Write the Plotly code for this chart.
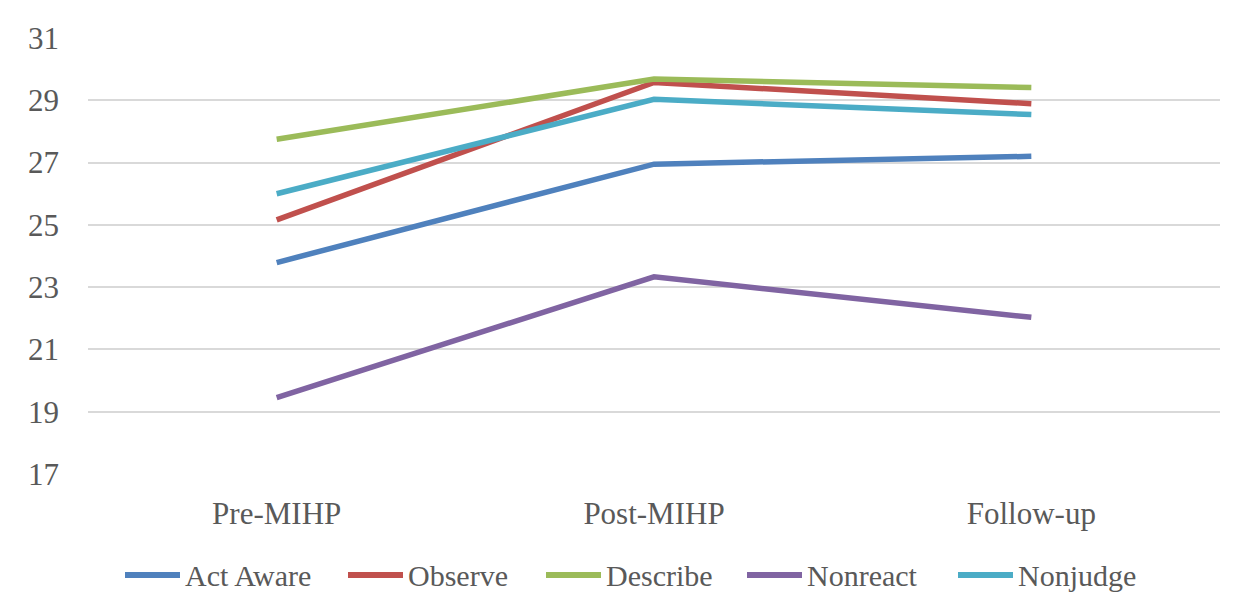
import plotly.graph_objects as go

categories = ["Pre-MIHP", "Post-MIHP", "Follow-up"]
act_aware = [23.79, 26.95, 27.20]
observe = [25.16, 29.57, 28.89]
describe = [27.75, 29.68, 29.41]
nonreact = [19.45, 23.33, 22.03]
nonjudge = [26.00, 29.03, 28.54]
y_ticks = [17, 19, 21, 23, 25, 27, 29, 31]

series_names = ["Act Aware", "Observe", "Describe", "Nonreact", "Nonjudge"]
series_values = [act_aware, observe, describe, nonreact, nonjudge]
series_colors = ["#4F81BD", "#C0504D", "#9BBB59", "#8064A2", "#4BACC6"]

fig = go.Figure()
for name, vals, color in zip(series_names, series_values, series_colors):
    fig.add_trace(go.Scatter(x=categories, y=vals, mode="lines", name=name,
                             showlegend=False,
                             line=dict(color=color, width=5.5)))

# page body adds an 8px offset; compensate
W, H = 1236, 604
l, t = 80, 30
pw, ph = 1132, 436
r = W - l - pw
b = H - t - ph

font = "Liberation Serif"
axis_txt = dict(family=font, size=31, color="#595959")
leg_txt = dict(family=font, size=30, color="#595959")

# legend drawn manually (reference-pixel positions of symbol starts)
leg_starts = [125, 348, 546, 747, 958]
leg_y = (474 - 575) / ph
shapes = [dict(type="rect", xref="paper", yref="paper",
               x0=(7 - 88) / pw, x1=(1250 - 88) / pw,
               y0=(474 - 640) / ph, y1=(474 - 7) / ph,
               line=dict(color="#D9D9D9", width=1.5), layer="below")]
annotations = []
for name, color, sx in zip(series_names, series_colors, leg_starts):
    shapes.append(dict(type="line", xref="paper", yref="paper",
                       x0=(sx - 88) / pw, x1=(sx + 55 - 88) / pw, y0=leg_y, y1=leg_y,
                       line=dict(color=color, width=6)))
    annotations.append(dict(xref="paper", yref="paper", x=(sx + 58 - 88) / pw, y=leg_y,
                            xanchor="left", yanchor="middle", showarrow=False,
                            text=name, font=leg_txt))

fig.update_layout(
    width=W, height=H,
    margin=dict(l=l, r=r, t=t, b=b, autoexpand=False),
    paper_bgcolor="white", plot_bgcolor="white",
    font=axis_txt,
    showlegend=False,
    xaxis=dict(range=[-0.5, 2.5], showgrid=False, showline=False, zeroline=False, ticks="",
               tickfont=axis_txt, ticklabelstandoff=18, automargin=False),
    yaxis=dict(range=[17, 31], tickvals=y_ticks, showgrid=True, gridcolor="#D9D9D9",
               gridwidth=1.5, zeroline=False, showline=False, ticks="",
               tickfont=axis_txt, ticklabelstandoff=28, automargin=False),
    shapes=shapes,
    annotations=annotations,
)

fig.write_html("out.html")
